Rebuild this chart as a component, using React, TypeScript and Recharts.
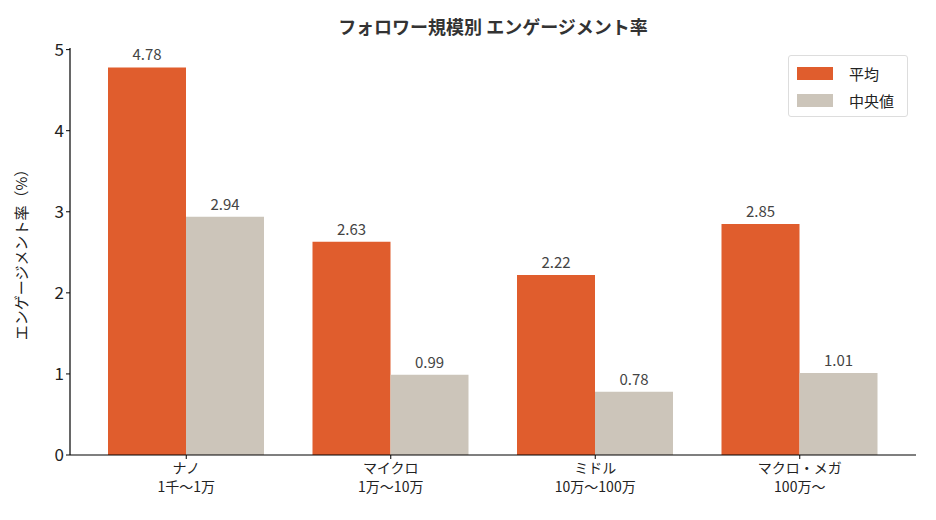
import { BarChart, Bar, XAxis, YAxis, LabelList } from 'recharts';

const categories = ['ナノ\n1千〜1万', 'マイクロ\n1万〜10万', 'ミドル\n10万〜100万', 'マクロ・メガ\n100万〜'];
const meanValues = [4.78, 2.63, 2.22, 2.85];
const medianValues = [2.94, 0.99, 0.78, 1.01];
const yTicks = [0, 1, 2, 3, 4, 5];

const ORANGE = '#E05D2D';
const GRAY = '#CCC5BA';
const FONT = '"Noto Sans CJK JP", "Noto Sans", sans-serif';

const data = categories.map((name, i) => ({ name, mean: meanValues[i], median: medianValues[i] }));

function CategoryTick({ x, y, payload }: any) {
    const lines = String(payload.value).split('\n');
    return (
        <text x={x} y={y + 12} textAnchor="middle" fill="#222" fontSize={14} fontFamily={FONT}>
            {lines.map((l, i) => (
                <tspan key={i} x={x} dy={i === 0 ? 0 : 19}>{l}</tspan>
            ))}
        </text>
    );
}

function LegendBox() {
    const items = [
        { label: '平均', color: ORANGE },
        { label: '中央値', color: GRAY },
    ];
    return (
        <div style={{ position: 'absolute', left: 788, top: 55, width: 120, height: 62, border: '1px solid #ddd', borderRadius: 3, background: '#fff', padding: '4px 0 0 8px', boxSizing: 'border-box' }}>
            {items.map((it) => (
                <div key={it.label} style={{ display: 'flex', alignItems: 'center', height: 27, whiteSpace: 'nowrap' }}>
                    <span style={{ width: 36, height: 13, background: it.color, display: 'inline-block', marginRight: 16 }} />
                    <span style={{ fontSize: 15, color: '#222', fontFamily: FONT }}>{it.label}</span>
                </div>
            ))}
        </div>
    );
}

export default function App() {
    return (
        <div style={{ position: 'absolute', left: 0, top: 0, width: 936, height: 520, background: '#fff' }}>
            <BarChart
                width={936}
                height={520}
                data={data}
                margin={{ top: 48, right: 20, bottom: 0, left: 0 }}
                barCategoryGap={24}
                barGap={0}
            >
                <text x={493} y={34} textAnchor="middle" fontSize={18} fontWeight="bold" fill="#333" fontFamily={FONT}>
                    フォロワー規模別 エンゲージメント率
                </text>
                <text
                    x={27}
                    y={251}
                    textAnchor="middle"
                    fontSize={15}
                    fill="#222"
                    fontFamily={FONT}
                    transform="rotate(-90 27 251)"
                >
                    エンゲージメント率（%）
                </text>
                <XAxis
                    dataKey="name"
                    interval={0}
                    padding={{ left: 14, right: 14 }}
                    axisLine={{ stroke: '#000', strokeWidth: 1.2 }}
                    tickLine={{ stroke: '#000' }}
                    tickSize={4}
                    tick={<CategoryTick />}
                    height={65}
                />
                <YAxis
                    domain={[0, 5.02]}
                    ticks={yTicks}
                    width={70}
                    axisLine={{ stroke: '#000', strokeWidth: 1.2 }}
                    tickLine={{ stroke: '#000' }}
                    tickSize={4}
                    tick={{ fill: '#222', fontSize: 17, fontFamily: FONT }}
                    allowDecimals={false}
                />
                <Bar dataKey="mean" name="平均" fill={ORANGE} isAnimationActive={false}>
                    <LabelList dataKey="mean" position="top" offset={7} formatter={(v: any) => Number(v).toFixed(2)} fill="#444" fontSize={15} fontFamily={FONT} />
                </Bar>
                <Bar dataKey="median" name="中央値" fill={GRAY} isAnimationActive={false}>
                    <LabelList dataKey="median" position="top" offset={7} formatter={(v: any) => Number(v).toFixed(2)} fill="#444" fontSize={15} fontFamily={FONT} />
                </Bar>
            </BarChart>
            <LegendBox />
        </div>
    );
}
